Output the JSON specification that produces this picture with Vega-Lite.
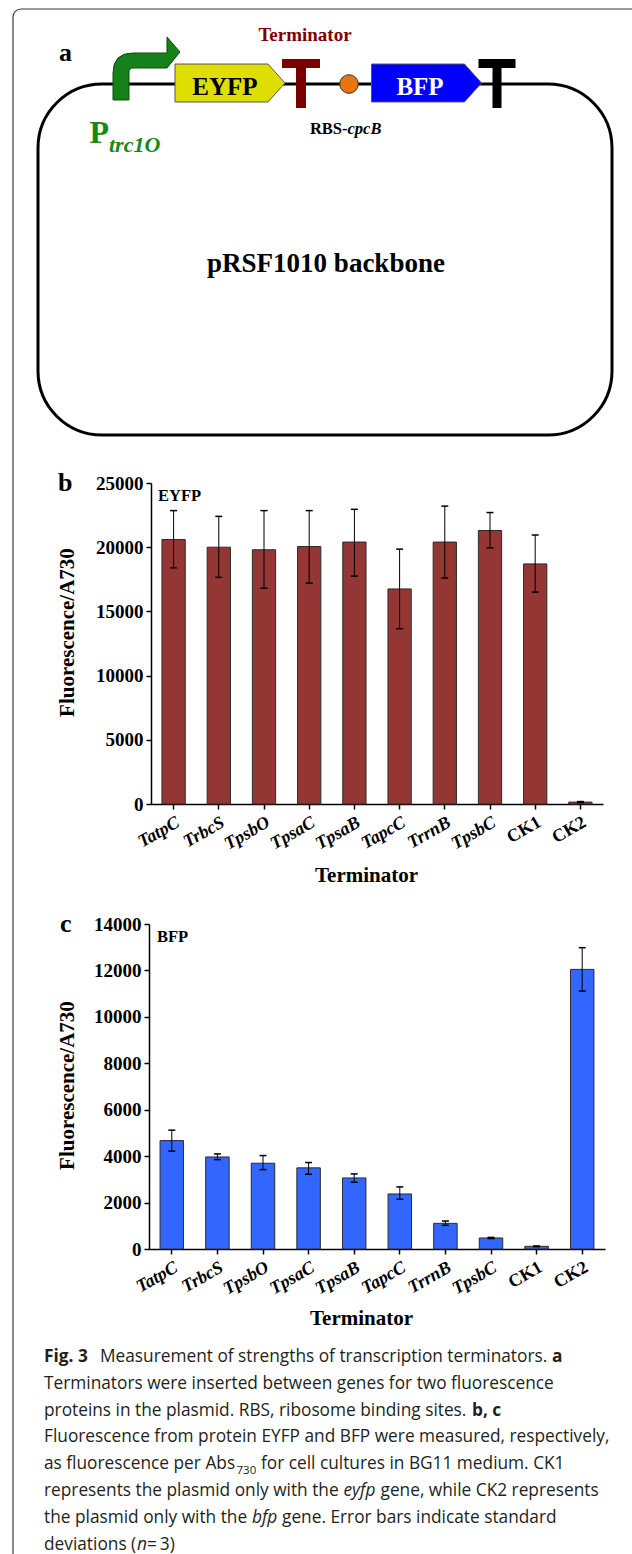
{
  "$schema": "https://vega.github.io/schema/vega-lite/v6.json",
  "width": 632,
  "height": 1554,
  "autosize": "none",
  "padding": 0,
  "background": "white",
  "config": {
    "view": {"stroke": null},
    "axis": {"grid": false, "labelFont": "Liberation Serif", "titleFont": "Liberation Serif", "labelFontWeight": "bold", "titleFontWeight": "bold", "labelColor": "black", "titleColor": "black", "domainColor": "black", "tickColor": "black", "domainWidth": 1.5, "tickWidth": 1.5, "tickSize": 5}
  },
  "resolve": {"scale": {"x": "independent", "y": "independent"}, "axis": {"x": "independent", "y": "independent"}},
  "layer": [
    {
      "layer": [
        {
          "data": {"values": [{"x1": 13, "x2": 900, "y1": 9, "y2": 2000}]},
          "mark": {"type": "rect", "filled": false, "stroke": "#3a3a3a", "strokeWidth": 1.2, "cornerRadius": 8},
          "encoding": {
            "x": {"field": "x1", "type": "quantitative", "scale": {"domain": [0, 632], "range": [0, 632], "nice": false, "zero": false}, "axis": null},
            "x2": {"field": "x2"},
            "y": {"field": "y1", "type": "quantitative", "scale": {"domain": [0, 1554], "range": [0, 1554], "nice": false, "zero": false}, "axis": null},
            "y2": {"field": "y2"}
          }
        },
        {
          "data": {"values": [{"x1": 38, "x2": 612, "y1": 84, "y2": 435}]},
          "mark": {"type": "rect", "filled": false, "stroke": "black", "strokeWidth": 3, "cornerRadius": 64},
          "encoding": {
            "x": {"field": "x1", "type": "quantitative", "scale": {"domain": [0, 632], "range": [0, 632], "nice": false, "zero": false}, "axis": null},
            "x2": {"field": "x2"},
            "y": {"field": "y1", "type": "quantitative", "scale": {"domain": [0, 1554], "range": [0, 1554], "nice": false, "zero": false}, "axis": null},
            "y2": {"field": "y2"}
          }
        },
        {
          "data": {"values": [{"part": "Ptrc1O", "x": 146.5, "y": 68.5}]},
          "mark": {"type": "point", "shape": "M-0.985,0.926L-0.985,0.132Q-0.985,-0.456,-0.397,-0.456L0.603,-0.456L0.603,-0.926L0.985,-0.485L0.603,-0.015L-0.397,-0.015Q-0.515,-0.015,-0.515,0.103L-0.515,0.926Z", "size": 4624, "filled": true, "fill": "#16801a", "stroke": "#0d4d0f", "strokeWidth": 1, "opacity": 1},
          "encoding": {
            "x": {"field": "x", "type": "quantitative", "scale": {"domain": [0, 632], "range": [0, 632], "nice": false, "zero": false}, "axis": null},
            "y": {"field": "y", "type": "quantitative", "scale": {"domain": [0, 1554], "range": [0, 1554], "nice": false, "zero": false}, "axis": null}
          }
        },
        {
          "data": {"values": [{"part": "EYFP", "x": 230, "y": 83}]},
          "mark": {"type": "point", "shape": "M-1,-0.345L0.69,-0.345L1,0L0.69,0.345L-1,0.345Z", "size": 12100, "filled": true, "fill": "#dede00", "stroke": "#555555", "strokeWidth": 1, "opacity": 1},
          "encoding": {
            "x": {"field": "x", "type": "quantitative", "scale": {"domain": [0, 632], "range": [0, 632], "nice": false, "zero": false}, "axis": null},
            "y": {"field": "y", "type": "quantitative", "scale": {"domain": [0, 1554], "range": [0, 1554], "nice": false, "zero": false}, "axis": null}
          }
        },
        {
          "data": {"values": [{"part": "BFP", "x": 426.5, "y": 83}]},
          "mark": {"type": "point", "shape": "M-1,-0.345L0.69,-0.345L1,0L0.69,0.345L-1,0.345Z", "size": 12100, "filled": true, "fill": "#0000ff", "stroke": "#555555", "strokeWidth": 1, "opacity": 1},
          "encoding": {
            "x": {"field": "x", "type": "quantitative", "scale": {"domain": [0, 632], "range": [0, 632], "nice": false, "zero": false}, "axis": null},
            "y": {"field": "y", "type": "quantitative", "scale": {"domain": [0, 1554], "range": [0, 1554], "nice": false, "zero": false}, "axis": null}
          }
        },
        {
          "data": {"values": [{"part": "Terminator", "x": 301, "y": 83.5}]},
          "mark": {"type": "point", "shape": "M-0.76,-0.98L0.76,-0.98L0.76,-0.62L0.2,-0.62L0.2,0.98L-0.2,0.98L-0.2,-0.62L-0.76,-0.62Z", "size": 2500, "filled": true, "fill": "#7a0000", "strokeWidth": 0, "opacity": 1},
          "encoding": {
            "x": {"field": "x", "type": "quantitative", "scale": {"domain": [0, 632], "range": [0, 632], "nice": false, "zero": false}, "axis": null},
            "y": {"field": "y", "type": "quantitative", "scale": {"domain": [0, 1554], "range": [0, 1554], "nice": false, "zero": false}, "axis": null}
          }
        },
        {
          "data": {"values": [{"part": "end terminator", "x": 497, "y": 83.5}]},
          "mark": {"type": "point", "shape": "M-0.74,-0.98L0.74,-0.98L0.74,-0.62L0.18,-0.62L0.18,0.98L-0.18,0.98L-0.18,-0.62L-0.74,-0.62Z", "size": 2500, "filled": true, "fill": "#000000", "strokeWidth": 0, "opacity": 1},
          "encoding": {
            "x": {"field": "x", "type": "quantitative", "scale": {"domain": [0, 632], "range": [0, 632], "nice": false, "zero": false}, "axis": null},
            "y": {"field": "y", "type": "quantitative", "scale": {"domain": [0, 1554], "range": [0, 1554], "nice": false, "zero": false}, "axis": null}
          }
        },
        {
          "data": {"values": [{"part": "RBS", "x": 349, "y": 84}]},
          "mark": {"type": "point", "shape": "circle", "size": 346, "filled": true, "fill": "#e8750f", "stroke": "#333333", "strokeWidth": 1, "opacity": 1},
          "encoding": {
            "x": {"field": "x", "type": "quantitative", "scale": {"domain": [0, 632], "range": [0, 632], "nice": false, "zero": false}, "axis": null},
            "y": {"field": "y", "type": "quantitative", "scale": {"domain": [0, 1554], "range": [0, 1554], "nice": false, "zero": false}, "axis": null}
          }
        },
        {
          "data": {"values": [{"label": "a", "x": 59, "y": 61}, {"label": "b", "x": 58, "y": 491}, {"label": "c", "x": 60, "y": 932}]},
          "mark": {"type": "text", "font": "Liberation Serif", "fontWeight": "bold", "fontSize": 26, "align": "left", "baseline": "alphabetic", "color": "black"},
          "encoding": {
            "x": {"field": "x", "type": "quantitative", "scale": {"domain": [0, 632], "range": [0, 632], "nice": false, "zero": false}, "axis": null},
            "y": {"field": "y", "type": "quantitative", "scale": {"domain": [0, 1554], "range": [0, 1554], "nice": false, "zero": false}, "axis": null},
            "text": {"field": "label"}
          }
        },
        {
          "data": {"values": [{"label": "Terminator", "x": 305, "y": 41}]},
          "mark": {"type": "text", "font": "Liberation Serif", "fontWeight": "bold", "fontSize": 19, "align": "center", "baseline": "alphabetic", "color": "#800000"},
          "encoding": {
            "x": {"field": "x", "type": "quantitative", "scale": {"domain": [0, 632], "range": [0, 632], "nice": false, "zero": false}, "axis": null},
            "y": {"field": "y", "type": "quantitative", "scale": {"domain": [0, 1554], "range": [0, 1554], "nice": false, "zero": false}, "axis": null},
            "text": {"field": "label"}
          }
        },
        {
          "data": {"values": [{"label": "EYFP", "x": 225, "y": 95}]},
          "mark": {"type": "text", "font": "Liberation Serif", "fontWeight": "bold", "fontSize": 25, "align": "center", "baseline": "alphabetic", "color": "black"},
          "encoding": {
            "x": {"field": "x", "type": "quantitative", "scale": {"domain": [0, 632], "range": [0, 632], "nice": false, "zero": false}, "axis": null},
            "y": {"field": "y", "type": "quantitative", "scale": {"domain": [0, 1554], "range": [0, 1554], "nice": false, "zero": false}, "axis": null},
            "text": {"field": "label"}
          }
        },
        {
          "data": {"values": [{"label": "BFP", "x": 420, "y": 95}]},
          "mark": {"type": "text", "font": "Liberation Serif", "fontWeight": "bold", "fontSize": 25, "align": "center", "baseline": "alphabetic", "color": "white"},
          "encoding": {
            "x": {"field": "x", "type": "quantitative", "scale": {"domain": [0, 632], "range": [0, 632], "nice": false, "zero": false}, "axis": null},
            "y": {"field": "y", "type": "quantitative", "scale": {"domain": [0, 1554], "range": [0, 1554], "nice": false, "zero": false}, "axis": null},
            "text": {"field": "label"}
          }
        },
        {
          "data": {"values": [{"label": "RBS-", "x": 347.5, "y": 133.5}]},
          "mark": {"type": "text", "font": "Liberation Serif", "fontWeight": "bold", "fontSize": 16.5, "align": "right", "baseline": "alphabetic", "color": "black"},
          "encoding": {
            "x": {"field": "x", "type": "quantitative", "scale": {"domain": [0, 632], "range": [0, 632], "nice": false, "zero": false}, "axis": null},
            "y": {"field": "y", "type": "quantitative", "scale": {"domain": [0, 1554], "range": [0, 1554], "nice": false, "zero": false}, "axis": null},
            "text": {"field": "label"}
          }
        },
        {
          "data": {"values": [{"label": "cpcB", "x": 347.5, "y": 133.5}]},
          "mark": {"type": "text", "font": "Liberation Serif", "fontWeight": "bold", "fontStyle": "italic", "fontSize": 16.5, "align": "left", "baseline": "alphabetic", "color": "black"},
          "encoding": {
            "x": {"field": "x", "type": "quantitative", "scale": {"domain": [0, 632], "range": [0, 632], "nice": false, "zero": false}, "axis": null},
            "y": {"field": "y", "type": "quantitative", "scale": {"domain": [0, 1554], "range": [0, 1554], "nice": false, "zero": false}, "axis": null},
            "text": {"field": "label"}
          }
        },
        {
          "data": {"values": [{"label": "P", "x": 89.5, "y": 143}]},
          "mark": {"type": "text", "font": "Liberation Serif", "fontWeight": "bold", "fontSize": 32, "align": "left", "baseline": "alphabetic", "color": "#148a14"},
          "encoding": {
            "x": {"field": "x", "type": "quantitative", "scale": {"domain": [0, 632], "range": [0, 632], "nice": false, "zero": false}, "axis": null},
            "y": {"field": "y", "type": "quantitative", "scale": {"domain": [0, 1554], "range": [0, 1554], "nice": false, "zero": false}, "axis": null},
            "text": {"field": "label"}
          }
        },
        {
          "data": {"values": [{"label": "trc1O", "x": 109, "y": 152}]},
          "mark": {"type": "text", "font": "Liberation Serif", "fontWeight": "bold", "fontStyle": "italic", "fontSize": 22, "align": "left", "baseline": "alphabetic", "color": "#148a14"},
          "encoding": {
            "x": {"field": "x", "type": "quantitative", "scale": {"domain": [0, 632], "range": [0, 632], "nice": false, "zero": false}, "axis": null},
            "y": {"field": "y", "type": "quantitative", "scale": {"domain": [0, 1554], "range": [0, 1554], "nice": false, "zero": false}, "axis": null},
            "text": {"field": "label"}
          }
        },
        {
          "data": {"values": [{"label": "pRSF1010 backbone", "x": 326, "y": 272}]},
          "mark": {"type": "text", "font": "Liberation Serif", "fontWeight": "bold", "fontSize": 27, "align": "center", "baseline": "alphabetic", "color": "black"},
          "encoding": {
            "x": {"field": "x", "type": "quantitative", "scale": {"domain": [0, 632], "range": [0, 632], "nice": false, "zero": false}, "axis": null},
            "y": {"field": "y", "type": "quantitative", "scale": {"domain": [0, 1554], "range": [0, 1554], "nice": false, "zero": false}, "axis": null},
            "text": {"field": "label"}
          }
        },
        {
          "data": {"values": [{"label": "EYFP", "x": 158, "y": 501}, {"label": "BFP", "x": 157, "y": 942}]},
          "mark": {"type": "text", "font": "Liberation Serif", "fontWeight": "bold", "fontSize": 16.5, "align": "left", "baseline": "alphabetic", "color": "black"},
          "encoding": {
            "x": {"field": "x", "type": "quantitative", "scale": {"domain": [0, 632], "range": [0, 632], "nice": false, "zero": false}, "axis": null},
            "y": {"field": "y", "type": "quantitative", "scale": {"domain": [0, 1554], "range": [0, 1554], "nice": false, "zero": false}, "axis": null},
            "text": {"field": "label"}
          }
        },
        {
          "data": {"values": [
            {"label": "Measurement of strengths of transcription terminators.", "x": 100, "y": 1362},
            {"label": "Terminators were inserted between genes for two fluorescence", "x": 44, "y": 1388.8},
            {"label": "proteins in the plasmid. RBS, ribosome binding sites.", "x": 44, "y": 1415.6},
            {"label": "Fluorescence from protein EYFP and BFP were measured, respectively,", "x": 44, "y": 1442.4},
            {"label": "as fluorescence per Abs", "x": 44, "y": 1469.2},
            {"label": "for cell cultures in BG11 medium. CK1", "x": 261, "y": 1469.2},
            {"label": "represents the plasmid only with the", "x": 44, "y": 1496},
            {"label": "gene, while CK2 represents", "x": 380.5, "y": 1496},
            {"label": "the plasmid only with the", "x": 44, "y": 1522.8},
            {"label": "gene. Error bars indicate standard", "x": 282, "y": 1522.8},
            {"label": "deviations (", "x": 44, "y": 1549.6},
            {"label": "\u2009=\u20093)", "x": 147, "y": 1549.6}
          ]},
          "mark": {"type": "text", "font": "Open Sans", "fontSize": 17.3, "align": "left", "baseline": "alphabetic", "color": "#231f20"},
          "encoding": {
            "x": {"field": "x", "type": "quantitative", "scale": {"domain": [0, 632], "range": [0, 632], "nice": false, "zero": false}, "axis": null},
            "y": {"field": "y", "type": "quantitative", "scale": {"domain": [0, 1554], "range": [0, 1554], "nice": false, "zero": false}, "axis": null},
            "text": {"field": "label"}
          }
        },
        {
          "data": {"values": [
            {"label": "Fig. 3", "x": 44, "y": 1362},
            {"label": "a", "x": 552, "y": 1362},
            {"label": "b, c", "x": 472, "y": 1415.6}
          ]},
          "mark": {"type": "text", "font": "Open Sans", "fontWeight": "bold", "fontSize": 17.3, "align": "left", "baseline": "alphabetic", "color": "#231f20"},
          "encoding": {
            "x": {"field": "x", "type": "quantitative", "scale": {"domain": [0, 632], "range": [0, 632], "nice": false, "zero": false}, "axis": null},
            "y": {"field": "y", "type": "quantitative", "scale": {"domain": [0, 1554], "range": [0, 1554], "nice": false, "zero": false}, "axis": null},
            "text": {"field": "label"}
          }
        },
        {
          "data": {"values": [
            {"label": "eyfp", "x": 343.5, "y": 1496},
            {"label": "bfp", "x": 252, "y": 1522.8},
            {"label": "n", "x": 137, "y": 1549.6}
          ]},
          "mark": {"type": "text", "font": "Open Sans", "fontStyle": "italic", "fontSize": 17.3, "align": "left", "baseline": "alphabetic", "color": "#231f20"},
          "encoding": {
            "x": {"field": "x", "type": "quantitative", "scale": {"domain": [0, 632], "range": [0, 632], "nice": false, "zero": false}, "axis": null},
            "y": {"field": "y", "type": "quantitative", "scale": {"domain": [0, 1554], "range": [0, 1554], "nice": false, "zero": false}, "axis": null},
            "text": {"field": "label"}
          }
        },
        {
          "data": {"values": [{"label": "730", "x": 236.5, "y": 1473.5}]},
          "mark": {"type": "text", "font": "Open Sans", "fontSize": 11.5, "align": "left", "baseline": "alphabetic", "color": "#231f20"},
          "encoding": {
            "x": {"field": "x", "type": "quantitative", "scale": {"domain": [0, 632], "range": [0, 632], "nice": false, "zero": false}, "axis": null},
            "y": {"field": "y", "type": "quantitative", "scale": {"domain": [0, 1554], "range": [0, 1554], "nice": false, "zero": false}, "axis": null},
            "text": {"field": "label"}
          }
        }
      ]
    },
    {
      "data": {"values": [
        {"t": "TatpC", "v": 20600, "lo": 18400, "hi": 22850},
        {"t": "TrbcS", "v": 20000, "lo": 17650, "hi": 22400},
        {"t": "TpsbO", "v": 19800, "lo": 16800, "hi": 22850},
        {"t": "TpsaC", "v": 20050, "lo": 17200, "hi": 22850},
        {"t": "TpsaB", "v": 20400, "lo": 17750, "hi": 22950},
        {"t": "TapcC", "v": 16750, "lo": 13650, "hi": 19850},
        {"t": "TrrnB", "v": 20400, "lo": 17600, "hi": 23200},
        {"t": "TpsbC", "v": 21300, "lo": 19950, "hi": 22700},
        {"t": "CK1", "v": 18700, "lo": 16500, "hi": 20950},
        {"t": "CK2", "v": 150, "lo": 110, "hi": 190}
      ]},
      "encoding": {
        "x": {"field": "t", "type": "nominal", "sort": null,
          "scale": {"domain": ["TatpC", "TrbcS", "TpsbO", "TpsaC", "TpsaB", "TapcC", "TrrnB", "TpsbC", "CK1", "CK2"], "range": [151, 603], "paddingInner": 0.485, "paddingOuter": 0.2425},
          "axis": {"orient": "bottom", "offset": -750, "title": "Terminator", "titleFontSize": 21, "titleX": 366, "titleY": 71, "titleBaseline": "middle", "titleAlign": "center",
            "labelAngle": -30, "labelAlign": "right", "labelBaseline": "top", "labelFontSize": 18, "labelPadding": 4,
            "labelFontStyle": {"condition": {"test": "datum.value == 'CK1' || datum.value == 'CK2'", "value": "normal"}, "value": "italic"}}
        }
      },
      "layer": [
        {
          "mark": {"type": "bar", "fill": "#943634", "stroke": "#2b2b2b", "strokeWidth": 1},
          "encoding": {
            "y": {"field": "v", "type": "quantitative", "title": "Fluorescence/A730",
              "scale": {"domain": [0, 25000], "range": [804, 483], "nice": false},
              "axis": {"orient": "left", "offset": -151, "values": [0, 5000, 10000, 15000, 20000, 25000], "format": "d", "labelFontSize": 19, "labelPadding": 3,
                "titleFontSize": 21, "titleX": -83.5, "titleY": 632, "titleAngle": 270, "titleBaseline": "middle", "titleAlign": "center"}}
          }
        },
        {
          "mark": {"type": "rule", "color": "black", "strokeWidth": 1},
          "encoding": {"y": {"field": "lo", "type": "quantitative", "title": "Fluorescence/A730"}, "y2": {"field": "hi"}}
        },
        {
          "mark": {"type": "tick", "color": "black", "size": 7, "thickness": 1.5, "opacity": 1},
          "encoding": {"y": {"field": "lo", "type": "quantitative", "title": "Fluorescence/A730"}}
        },
        {
          "mark": {"type": "tick", "color": "black", "size": 7, "thickness": 1.5, "opacity": 1},
          "encoding": {"y": {"field": "hi", "type": "quantitative", "title": "Fluorescence/A730"}}
        }
      ]
    },
    {
      "data": {"values": [
        {"t": "TatpC", "v": 4670, "lo": 4215, "hi": 5120},
        {"t": "TrbcS", "v": 3965, "lo": 3850, "hi": 4095},
        {"t": "TpsbO", "v": 3695, "lo": 3420, "hi": 4025},
        {"t": "TpsaC", "v": 3495, "lo": 3220, "hi": 3725},
        {"t": "TpsaB", "v": 3060, "lo": 2875, "hi": 3235},
        {"t": "TapcC", "v": 2370, "lo": 2140, "hi": 2675},
        {"t": "TrrnB", "v": 1105, "lo": 1020, "hi": 1205},
        {"t": "TpsbC", "v": 475, "lo": 450, "hi": 500},
        {"t": "CK1", "v": 115, "lo": 100, "hi": 130},
        {"t": "CK2", "v": 12045, "lo": 11110, "hi": 12980}
      ]},
      "encoding": {
        "x": {"field": "t", "type": "nominal", "sort": null,
          "scale": {"domain": ["TatpC", "TrbcS", "TpsbO", "TpsaC", "TpsaB", "TapcC", "TrrnB", "TpsbC", "CK1", "CK2"], "range": [149, 605], "paddingInner": 0.485, "paddingOuter": 0.2425},
          "axis": {"orient": "bottom", "offset": -305, "title": "Terminator", "titleFontSize": 21, "titleX": 361, "titleY": 69, "titleBaseline": "middle", "titleAlign": "center",
            "labelAngle": -30, "labelAlign": "right", "labelBaseline": "top", "labelFontSize": 18, "labelPadding": 4,
            "labelFontStyle": {"condition": {"test": "datum.value == 'CK1' || datum.value == 'CK2'", "value": "normal"}, "value": "italic"}}
        }
      },
      "layer": [
        {
          "mark": {"type": "bar", "fill": "#3366ff", "stroke": "#2b2b2b", "strokeWidth": 1},
          "encoding": {
            "y": {"field": "v", "type": "quantitative", "title": "Fluorescence/A730",
              "scale": {"domain": [0, 14000], "range": [1249, 924], "nice": false},
              "axis": {"orient": "left", "offset": -149, "values": [0, 2000, 4000, 6000, 8000, 10000, 12000, 14000], "format": "d", "labelFontSize": 19, "labelPadding": 3,
                "titleFontSize": 21, "titleX": -81.5, "titleY": 1085, "titleAngle": 270, "titleBaseline": "middle", "titleAlign": "center"}}
          }
        },
        {
          "mark": {"type": "rule", "color": "black", "strokeWidth": 1},
          "encoding": {"y": {"field": "lo", "type": "quantitative", "title": "Fluorescence/A730"}, "y2": {"field": "hi"}}
        },
        {
          "mark": {"type": "tick", "color": "black", "size": 7, "thickness": 1.5, "opacity": 1},
          "encoding": {"y": {"field": "lo", "type": "quantitative", "title": "Fluorescence/A730"}}
        },
        {
          "mark": {"type": "tick", "color": "black", "size": 7, "thickness": 1.5, "opacity": 1},
          "encoding": {"y": {"field": "hi", "type": "quantitative", "title": "Fluorescence/A730"}}
        }
      ]
    }
  ]
}
